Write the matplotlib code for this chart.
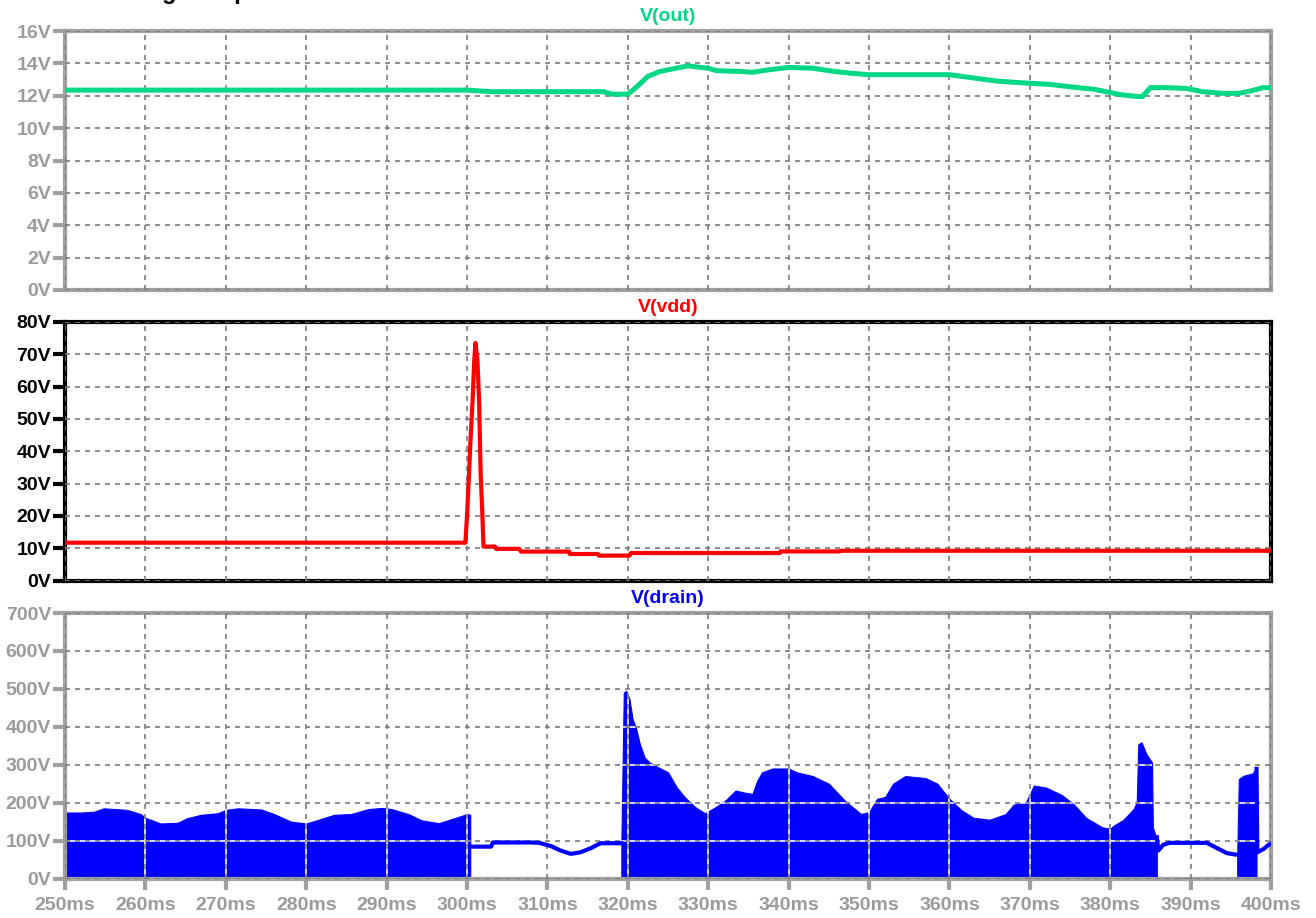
import matplotlib
matplotlib.use('Agg')
import matplotlib.pyplot as plt
from matplotlib.path import Path

plt.rcParams['font.family'] = ['Liberation Sans', 'DejaVu Sans']
plt.rcParams['font.weight'] = 'bold'

# V(out)
t_out = [250, 300, 303, 305, 317, 318, 320, 321, 322.5, 324, 326, 327.5, 329, 330, 331,
         334, 335.5, 337.5, 340, 343, 345, 347.5, 350, 360, 363, 366, 369, 372.5, 376,
         378, 380, 381.5, 383.5, 384, 385, 387, 389.5, 391.5, 394, 396, 397.5, 399, 400]
v_out = [12.35, 12.35, 12.25, 12.25, 12.25, 12.1, 12.1, 12.5, 13.2, 13.5, 13.7, 13.85, 13.75, 13.7, 13.55,
         13.5, 13.45, 13.6, 13.75, 13.7, 13.55, 13.4, 13.3, 13.3, 13.1, 12.9, 12.8, 12.7, 12.5,
         12.4, 12.2, 12.05, 11.95, 11.95, 12.5, 12.5, 12.45, 12.25, 12.15, 12.15, 12.3, 12.5, 12.5]

# V(vdd)
t_vdd = [250, 299.8, 300.0, 300.25, 300.45, 300.7, 300.9, 301.05, 301.3, 301.5, 301.7, 301.9,
         302.05, 303.5, 303.6, 306.5, 306.7, 312.7, 312.8, 316.3, 316.4, 320.2, 320.4, 338.9,
         339.0, 346.3, 346.5, 400]
v_vdd = [11.7, 11.7, 20, 33, 44, 56, 68, 73.5, 68, 56, 33, 21,
         10.5, 10.5, 9.8, 9.8, 8.95, 8.95, 8.2, 8.2, 7.7, 7.7, 8.5, 8.5,
         9.0, 9.0, 9.2, 9.2]

# V(drain): switching envelopes (filled) and quiet stretches (line)
t_sw1 = [250, 252, 253.6, 254.8, 257.7, 259.4, 260, 261.9, 264, 265.2, 266.9, 269, 270, 271.5,
         274.4, 276, 278.1, 280, 281.4, 283.5, 285.6, 287.7, 289.4, 290.6, 292.7, 294.4, 296.5,
         298.6, 300, 300.4]
v_sw1 = [174, 174, 176, 185, 181, 170, 160, 145, 147, 159, 168, 172, 181, 185,
         182, 170, 150, 145, 154, 168, 170, 183, 186, 183, 170, 153, 146,
         160, 170, 168]
t_sw2 = [319.2, 319.25, 319.5, 319.8, 320.2, 320.6, 321, 321.5, 322.1, 322.7, 323.8, 325, 326.1,
         327.1, 328.4, 329.6, 330.9, 332.1, 333.4, 334.4, 335.5, 336.1, 336.7, 338, 340, 341, 343,
         345, 347, 349, 350, 351, 352, 353, 354.5, 357, 358.5, 360, 361.5, 363, 365, 367, 368,
         369.5, 370.5, 372, 374, 375.5, 377, 379, 380, 380.4, 381.6, 382.9, 383.3, 383.5, 383.9,
         384.5, 385.2, 385.3, 385.7, 385.8]
v_sw2 = [93, 161, 490, 495, 473, 420, 398, 354, 319, 306, 293, 280, 240,
         214, 188, 172, 188, 205, 232, 227, 223, 258, 280, 290, 290, 280, 270,
         250, 205, 170, 175, 210, 215, 250, 270, 265, 250, 210, 180, 160, 155, 170, 195,
         200, 245, 240, 220, 195, 160, 135, 131, 139, 154, 183, 201, 354, 359,
         328, 306, 135, 109, 109]
t_sw3 = [395.8, 396, 396.6, 397.7, 398.1, 398.2]
v_sw3 = [63, 262, 271, 277, 289, 289]

t_q1 = [300.4, 303.0, 303.2, 308, 309, 310.5, 311.6, 312.9, 314.1, 315.4, 316.6, 319.2]
v_q1 = [84, 84, 95, 95, 94, 85, 74, 65, 69, 80, 93, 93]
t_q2 = [385.8, 386.0, 386.6, 387.4, 392, 393.3, 394.5, 395.6, 395.8]
v_q2 = [109, 74, 89, 94, 94, 80, 67, 63, 63]
t_q3 = [398.2, 398.3, 399.1, 399.7, 400]
v_q3 = [289, 69, 78, 89, 92]

x_ticks = list(range(250, 401, 10))
x_labels = ['%dms' % v for v in x_ticks]
y_out = list(range(0, 17, 2))
y_vdd = list(range(0, 81, 10))
y_drain = list(range(0, 701, 100))

GRAY = '#a0a0a0'
LABEL_GRAY = '#9a9a9a'
GRID = '#7a7a7a'

fig = plt.figure(figsize=(13.16, 9.18), dpi=100)
W, H = 1316, 918
left, right = 65 / W, 1271 / W
boxes = [(31, 290), (322, 580.5), (613, 878.5)]
axes = []
for top, bot in boxes:
    axes.append(fig.add_axes([left, 1 - bot / H, right - left, (bot - top) / H]))

specs = [
    (axes[0], y_out, 'V(out)', '#00d884', GRAY, LABEL_GRAY),
    (axes[1], y_vdd, 'V(vdd)', '#ff0000', 'black', 'black'),
    (axes[2], y_drain, 'V(drain)', '#0000ff', GRAY, LABEL_GRAY),
]
for ax, yt, title, col, frame, lab in specs:
    ax.set_xlim(250, 400)
    ax.set_ylim(yt[0], yt[-1])
    ax.set_xticks(x_ticks)
    ax.set_yticks(yt)
    ax.set_yticklabels(['%dV' % v for v in yt])
    ax.set_axisbelow(False)
    ax.grid(True, color=GRID, linestyle=(0, (3, 3)), linewidth=1.2)
    for s in ax.spines.values():
        s.set_color(frame)
        s.set_linewidth(3)
    ax.tick_params(axis='y', direction='out', length=9, width=3, color=frame,
                   labelcolor=lab, labelsize=14, pad=1)
    ax.tick_params(axis='x', direction='out', length=8, width=3, color=frame,
                   labelcolor=lab, labelsize=14, pad=5)
    ax.set_title(title, color=col, fontsize=14, fontweight='bold', pad=7)

for ax in axes[:2]:
    ax.tick_params(axis='x', bottom=False, labelbottom=False)
axes[2].set_xticklabels(x_labels)

axes[0].plot(t_out, v_out, color='#00d884', lw=3.6, zorder=3, solid_joinstyle='miter')
axes[1].plot(t_vdd, v_vdd, color='#ff0000', lw=3.0, zorder=3)

ax = axes[2]
fills = []
for t, v in [(t_sw1, v_sw1), (t_sw2, v_sw2), (t_sw3, v_sw3)]:
    fills.append(ax.fill_between(t, 0, v, color='#0000ff', lw=0.8, zorder=2))
for t, v in [(t_q1, v_q1), (t_q2, v_q2), (t_q3, v_q3)]:
    ax.plot(t, v, color='#0000ff', lw=3.0, zorder=3)

# grid shows white where it crosses the filled switching region
clip = Path.make_compound_path(*[p for f in fills for p in f.get_paths()])
for y in y_drain[1:-1]:
    ln, = ax.plot([250, 400], [y, y], color='white', lw=1.2, zorder=2.4)
    ln.set_clip_path(clip, ax.transData)
for x in x_ticks[1:-1]:
    ln, = ax.plot([x, x], [0, 700], color='white', lw=1.2, zorder=2.4)
    ln.set_clip_path(clip, ax.transData)

fig.text(106 / W, 1 + 1 / H, 'Voltage dropout', fontsize=17, fontweight='bold',
         color='black', va='baseline', ha='left')

fig.savefig('out.png', dpi=100)
